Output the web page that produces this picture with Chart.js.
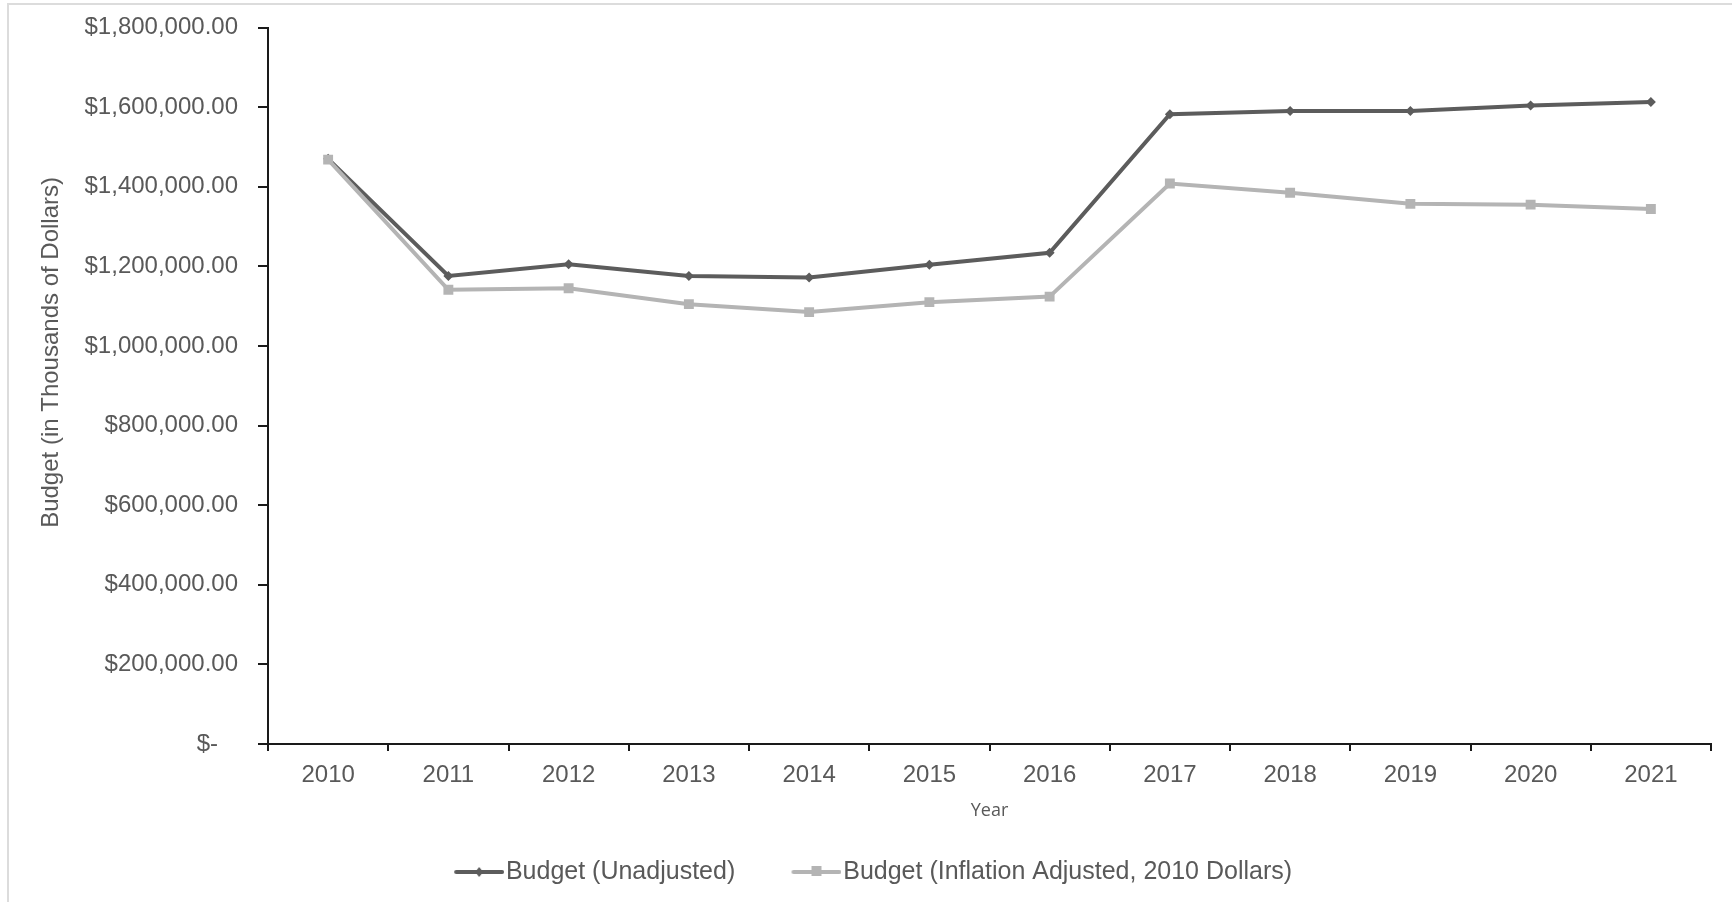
<!DOCTYPE html>
<html>
<head>
<meta charset="utf-8">
<script src="https://cdn.jsdelivr.net/npm/chart.js@4"></script>
<style>
  html, body { margin: 0; padding: 0; background: #fff; overflow: hidden; }
  #wrap { position: relative; width: 1732px; height: 902px; }
  #frame { position: absolute; left: 7px; top: 3px; width: 1760px; height: 940px; border: 2px solid #dcdcdc; }
  canvas { position: absolute; left: 0; top: 0; }
</style>
</head>
<body>
<div id="wrap">
  <div id="frame"></div>
  <canvas id="budgetChart" width="1732" height="902"></canvas>
</div>
<script>
const years = ["2010", "2011", "2012", "2013", "2014", "2015", "2016", "2017", "2018", "2019", "2020", "2021"]
const budgetUnadjusted = [1470000, 1176000, 1205000, 1176000, 1172000, 1204000, 1234000, 1582000, 1590000, 1590000, 1604000, 1613000]
const budgetAdjusted = [1468000, 1141000, 1145000, 1105000, 1085000, 1110000, 1124000, 1408000, 1385000, 1357000, 1355000, 1344000]
const seriesNames = ["Budget (Unadjusted)", "Budget (Inflation Adjusted, 2010 Dollars)"]

const darkGrey = "#5c5c5c"
const lightGrey = "#b4b4b4"
const textGrey = "#595959"
const axisBlack = "#1a1a1a"

// legend swatch: short line with the marker in the middle, drawn on the right side of the canvas
function legendSwatch(color, marker) {
  const c = document.createElement("canvas")
  c.width = 96
  c.height = 16
  const g = c.getContext("2d")
  g.strokeStyle = color
  g.fillStyle = color
  g.lineWidth = 4
  g.lineCap = "round"
  g.beginPath()
  g.moveTo(48, 8)
  g.lineTo(94, 8)
  g.stroke()
  const mx = 71
  if (marker === "diamond") {
    g.beginPath()
    g.moveTo(mx, 3); g.lineTo(mx + 4, 8); g.lineTo(mx, 13); g.lineTo(mx - 4, 8)
    g.closePath()
    g.fill()
  } else {
    g.fillRect(mx - 5, 2, 10, 10)
  }
  return c
}

const swatches = [legendSwatch(darkGrey, "diamond"), legendSwatch(lightGrey, "square")]

function money(v) {
  if (v === 0) return "$-   "
  return "$" + v.toLocaleString("en-US", { minimumFractionDigits: 2, maximumFractionDigits: 2 })
}

new Chart(document.getElementById("budgetChart"), {
  type: "line",
  data: {
    labels: years,
    datasets: [{
      label: seriesNames[0],
      data: budgetUnadjusted,
      borderColor: darkGrey,
      backgroundColor: darkGrey,
      borderWidth: 4,
      pointStyle: "rectRot",
      pointRadius: 5,
      pointBorderWidth: 0,
      tension: 0,
      order: 1
    }, {
      label: seriesNames[1],
      data: budgetAdjusted,
      borderColor: lightGrey,
      backgroundColor: lightGrey,
      borderWidth: 4,
      pointStyle: "rect",
      pointRadius: 7,
      pointBorderWidth: 0,
      tension: 0,
      order: 0
    }]
  },
  options: {
    responsive: false,
    animation: false,
    layout: { padding: { left: 0, right: 21, top: 27.5, bottom: 7.5 } },
    plugins: {
      tooltip: { enabled: false },
      legend: {
        position: "bottom",
        labels: {
          usePointStyle: true,
          pointStyleWidth: 74.5,
          padding: 21,
          color: textGrey,
          font: { family: "'Liberation Sans', Arial, sans-serif", size: 25 },
          sort: (a, b) => a.datasetIndex - b.datasetIndex,
          generateLabels: (chart) => {
            const items = Chart.defaults.plugins.legend.labels.generateLabels(chart)
            items.forEach(item => { item.pointStyle = swatches[item.datasetIndex] })
            return items
          }
        }
      }
    },
    scales: {
      x: {
        type: "category",
        offset: true,
        afterFit: (scale) => { scale.height = 94.5 },
        grid: { offset: true, drawOnChartArea: false, tickLength: 7, color: axisBlack, lineWidth: 2 },
        border: { color: axisBlack, width: 2 },
        ticks: {
          padding: 10,
          color: textGrey,
          font: { family: "'Liberation Sans', Arial, sans-serif", size: 24 }
        },
        title: {
          display: true,
          text: "Year",
          color: textGrey,
          padding: { top: 0, bottom: 17 },
          font: { family: "'Open Sans', sans-serif", size: 18 }
        }
      },
      y: {
        min: 0,
        max: 1800000,
        afterFit: (scale) => {
          scale.width = 268
          // tick padding would otherwise push the plot top down
          scale.paddingTop = 0
          scale.paddingBottom = 0
        },
        grid: { drawOnChartArea: false, tickLength: 10, color: axisBlack, lineWidth: 2 },
        border: { color: axisBlack, width: 2 },
        ticks: {
          stepSize: 200000,
          padding: 20,
          color: textGrey,
          font: { family: "'Liberation Sans', Arial, sans-serif", size: 24 },
          callback: (v) => money(v)
        },
        title: {
          display: true,
          // leading spaces lift the title a bit above the axis middle, as in the original
          text: "          Budget (in Thousands of Dollars)",
          color: textGrey,
          padding: { top: 37, bottom: 0 },
          font: { family: "'Liberation Sans', Arial, sans-serif", size: 24 }
        }
      }
    }
  }
})
</script>
</body>
</html>
